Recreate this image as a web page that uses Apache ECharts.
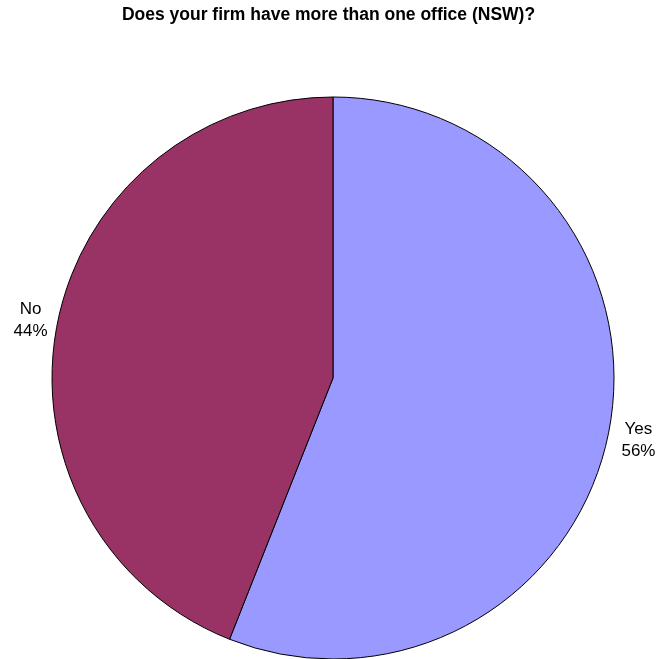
<!DOCTYPE html>
<html><head><meta charset="utf-8">
<script src="https://cdn.jsdelivr.net/npm/echarts@6/dist/echarts.min.js"></script>
<style>html,body{margin:0;padding:0;background:#fff}#c{width:657px;height:659px}</style>
</head><body><div id="c"></div>
<script>
const categories = ['Yes', 'No'];
const values = [56, 44];
const colors = ['#9999FF', '#993366'];
const labelPads = [[18, 0, 0, 3], [0, 0, 8, 0]];
const FONT = 'Liberation Sans, Arial, sans-serif';
const chart = echarts.init(document.getElementById('c'), null, {renderer: 'canvas'});
chart.setOption({
  animation: false,
  title: {
    text: 'Does your firm have more than one office (NSW)?',
    left: 'center', top: 1,
    textStyle: {fontFamily: FONT, fontSize: 17.5, fontWeight: 'bold', color: '#000'}
  },
  series: [{
    type: 'pie',
    center: [333, 378],
    radius: [0, 281],
    startAngle: 90,
    clockwise: true,
    data: categories.map((c, i) => ({name: c, value: values[i], itemStyle: {color: colors[i]}, label: {padding: labelPads[i]}})),
    itemStyle: {borderColor: '#000', borderWidth: 1},
    label: {
      show: true, position: 'outside', overflow: 'none', bleedMargin: 0,
      formatter: p => '{a|' + p.name + '}\n{a|' + Math.round(p.percent) + '%}',
      rich: {a: {width: 35, align: 'center', fontFamily: FONT, fontSize: 17, lineHeight: 22, color: '#000'}}
    },
    labelLine: {show: false, length: 4, length2: 0},
    emphasis: {disabled: true}
  }]
});
</script></body></html>
